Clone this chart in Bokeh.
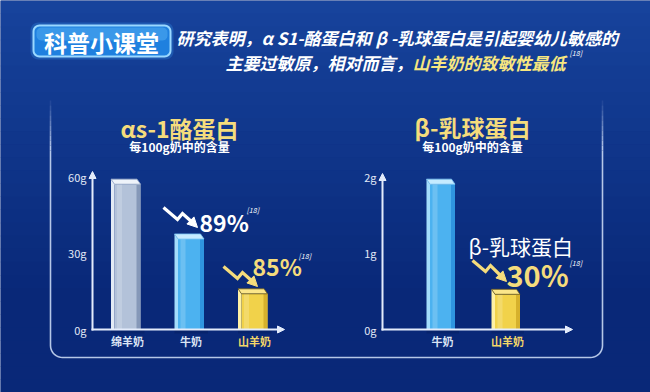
import numpy as np
from bokeh.plotting import figure
from bokeh.models import Range1d, Arrow, NormalHead, ColumnDataSource
from bokeh.core.properties import value
from bokeh.embed import file_html
from bokeh.resources import INLINE

FONT = "Noto Sans CJK SC"

# ---------------- data ----------------
badge_text = "科普小课堂"
header_line1 = "研究表明，α S1-酪蛋白和 β -乳球蛋白是引起婴幼儿敏感的"
header_line2a = "主要过敏原，相对而言，"
header_line2b = "山羊奶的致敏性最低"
ref_mark = "[18]"

left_title = "αs-1酪蛋白"
right_title = "β-乳球蛋白"
subtitle = "每100g奶中的含量"

left_categories = ["绵羊奶", "牛奶", "山羊奶"]
left_values = [57.0, 35.5, 14.0]
left_ticks = [0, 30, 60]
left_tick_labels = ["0g", "30g", "60g"]
left_drops = ["89%", "85%"]

right_categories = ["牛奶", "山羊奶"]
right_values = [1.9, 0.46]
right_ticks = [0, 1, 2]
right_tick_labels = ["0g", "1g", "2g"]
right_note = "β-乳球蛋白"
right_drop = "30%"

# ---------------- styles ----------------
BAR_STYLE = {
    "绵羊奶": dict(front="#b3c2d9", side="#e2eaf5", top="#eef3fa", shade="#8598b8", edge="#9fb0cc", label="#dbe4f4"),
    "牛奶": dict(front="#4cb2f0", side="#a4ddfb", top="#c6ebff", shade="#2f95e0", edge="#7cc8f5", label="#dbe4f4"),
    "山羊奶": dict(front="#f1d24a", side="#fff1a4", top="#fbe68a", shade="#d6b12c", edge="#6b5a1c", label="#f3d668"),
}
WHITE = "#ffffff"
GOLD = "#f5dc7c"
AXIS_C = "#e4ecfb"

W, H = 650, 392
X0, X1, Y0, Y1 = 0, 650, 0, 392

p = figure(width=W, height=H, x_range=Range1d(X0, X1), y_range=Range1d(Y1, Y0),
           output_backend="svg", toolbar_location=None, min_border=0,
           x_axis_location=None, y_axis_location=None, outline_line_color=None,
           background_fill_color="#0b2c80", border_fill_color="#0b2c80")
p.grid.visible = False

# background vertical gradient bands
top_c = np.array([0x17, 0x43, 0x9c]); bot_c = np.array([0x09, 0x28, 0x78])
nb = 30
edges = np.linspace(Y0, Y1, nb + 1)
cols = []
for k in range(nb):
    t = min(1.0, k / (nb - 1) * 1.3)
    c = (top_c * (1 - t) + bot_c * t).astype(int)
    cols.append("#%02x%02x%02x" % tuple(c))
p.quad(left=X0, right=X1, top=edges[:-1], bottom=edges[1:] + 0.5, fill_color=cols, line_color=None)

# ---------------- layout constants ----------------
BASE = 329
L_PX = 153 / 60; L_CX = 127; L_DX = 63.5; L_AXX = 92; L_AXEND = 284; L_AXTOP = 171; L_BW = 26
R_PX = 153 / 2;  R_CX = 442; R_DX = 65;  R_AXX = 382; R_AXEND = 572; R_AXTOP = 173; R_BW = 25


def vrange(px):
    return Range1d((BASE - Y1) / px, (BASE - Y0) / px)


def crange(cx, dx):
    return Range1d((X0 - cx) / dx, (X1 - cx) / dx)


p.extra_y_ranges = {"lv": vrange(L_PX), "rv": vrange(R_PX)}
p.extra_x_ranges = {"lc": crange(L_CX, L_DX), "rc": crange(R_CX, R_DX)}


def txt(x, y, s, size, color, align="left", style="bold", baseline="middle", **kw):
    p.text(x=[x], y=[y], text=[s], text_font=value(FONT), text_font_size=f"{size}px",
           text_color=color, text_align=align, text_baseline=baseline,
           text_font_style=style, **kw)


def rounded_rect(x0, y0, x1, y1, r, n=8):
    t = np.linspace(0, np.pi / 2, n)
    xs, ys = [], []
    xs += list(x0 + r - r * np.cos(t)); ys += list(y0 + r - r * np.sin(t))
    xs += list(x1 - r + r * np.sin(t)); ys += list(y0 + r - r * np.cos(t))
    xs += list(x1 - r + r * np.cos(t)); ys += list(y1 - r + r * np.sin(t))
    xs += list(x0 + r - r * np.sin(t)); ys += list(y1 - r + r * np.cos(t))
    return xs, ys


# ---------------- header ----------------
gx, gy = rounded_rect(30, 22, 173, 59, 8)
p.patch(gx, gy, fill_color="#3aa6ff", fill_alpha=0.25, line_color=None)
bx, by = rounded_rect(33, 25, 170, 56, 6)
p.patch(bx, by, fill_color="#1f80df", line_color="#9ad8ff", line_width=2)
hx, hy = rounded_rect(36, 27, 167, 40, 5)
p.patch(hx, hy, fill_color="#5cb6f7", fill_alpha=0.45, line_color=None)
txt(101, 41.5, badge_text, 23, WHITE, align="center")

txt(176, 37, header_line1, 17, WHITE, style="bold italic")
txt(412, 62, header_line2a, 17, WHITE, align="right", style="bold italic")
txt(412, 62, header_line2b, 17, "#f7e680", style="bold italic")
txt(569, 52, ref_mark, 7, WHITE, style="italic")

# ---------------- panel border ----------------
PL, PR, PB, PRAD = 50, 602, 357, 12
t = np.linspace(0, np.pi / 2, 10)
path_x = [PL] + list(PL + PRAD - PRAD * np.cos(t)) + list(PR - PRAD + PRAD * np.sin(t)) + [PR]
path_y = [150] + list(PB - PRAD + PRAD * np.sin(t)) + list(PB - PRAD + PRAD * np.cos(t)) + [150]
p.line(path_x, path_y, line_color="#c9d8f3", line_width=1.6, line_alpha=0.9)
fade = np.linspace(100, 150, 11)
for k in range(10):
    a = 0.9 * (k + 1) / 10
    p.line([PL, PL], [fade[k], fade[k + 1]], line_color="#c9d8f3", line_width=1.6, line_alpha=a)
    p.line([PR, PR], [fade[k], fade[k + 1]], line_color="#c9d8f3", line_width=1.6, line_alpha=a)

# ---------------- chart titles ----------------
txt(179, 127, left_title, 23, GOLD, align="center")
txt(179, 146, subtitle, 12, WHITE, align="center")
txt(472, 126, right_title, 23, GOLD, align="center")
txt(472, 146, subtitle, 12, WHITE, align="center")


# ---------------- bars ----------------
def draw_chart(cats, vals, ticks, tick_labels, xr, yr, dxpx, pxv, wpx, axx, axend, axtop):
    n = len(cats)
    idx = list(range(n))
    st = [BAR_STYLE[c] for c in cats]
    w = wpx / dxpx
    ox = 3.5 / dxpx
    oy = 5.0 / pxv
    xl = [i - w / 2 for i in idx]
    xrr = [i + w / 2 for i in idx]
    # shadow
    p.patches([[a - ox, b + 4 / dxpx, b + 4 / dxpx, a - ox] for a, b in zip(xl, xrr)],
              [[0, 0, -4 / pxv, -4 / pxv] for _ in idx],
              fill_color="#051a55", fill_alpha=0.35, line_color=None,
              x_range_name=xr, y_range_name=yr)
    # left side face
    p.patches([[a, a, a - ox, a - ox] for a in xl],
              [[0, v, v + oy, 0] for v in vals],
              fill_color=[s["side"] for s in st], line_color=None,
              x_range_name=xr, y_range_name=yr)
    # front face
    src = ColumnDataSource(dict(x=idx, top=vals, front=[s["front"] for s in st], cat=cats))
    p.vbar(x="x", top="top", bottom=0, width=w, source=src, fill_color="front",
           line_color=None, x_range_name=xr, y_range_name=yr)
    # gloss strip and right shading
    gw = 5 / dxpx
    p.vbar(x=[a + 2.5 / dxpx + gw / 2 for a in xl], top=vals, bottom=0, width=gw,
           fill_color=WHITE, fill_alpha=0.18, line_color=None, x_range_name=xr, y_range_name=yr)
    sw = 4 / dxpx
    p.vbar(x=[b - sw / 2 for b in xrr], top=vals, bottom=0, width=sw,
           fill_color=[s["shade"] for s in st], line_color=None, x_range_name=xr, y_range_name=yr)
    # top face
    p.patches([[a, b, b - ox, a - ox] for a, b in zip(xl, xrr)],
              [[v, v, v + oy, v + oy] for v in vals],
              fill_color=[s["top"] for s in st], line_color=[s["edge"] for s in st],
              line_width=0.8, x_range_name=xr, y_range_name=yr)
    # axes
    p.add_layout(Arrow(end=NormalHead(size=7, fill_color=AXIS_C, line_color=AXIS_C),
                       x_start=axx, y_start=BASE + 1, x_end=axx, y_end=axtop,
                       line_color=AXIS_C, line_width=2))
    p.add_layout(Arrow(end=NormalHead(size=7, fill_color=AXIS_C, line_color=AXIS_C),
                       x_start=axx - 1, y_start=BASE, x_end=axend, y_end=BASE,
                       line_color=AXIS_C, line_width=2))
    # tick labels through value scale
    p.text(x=[axx - 6] * len(ticks), y=ticks, text=tick_labels, y_range_name=yr,
           text_font=value(FONT), text_font_size="11px", text_color="#e2e9f6",
           text_align="right", text_baseline="middle")
    # category labels through category scale
    p.text(x=idx, y=[0] * n, text=cats, x_range_name=xr, y_range_name=yr, y_offset=11,
           text_font=value(FONT), text_font_size="11px", text_font_style="bold",
           text_color=[s["label"] for s in st], text_align="center", text_baseline="middle")


draw_chart(left_categories, left_values, left_ticks, left_tick_labels, "lc", "lv",
           L_DX, L_PX, L_BW, L_AXX, L_AXEND, L_AXTOP)
draw_chart(right_categories, right_values, right_ticks, right_tick_labels, "rc", "rv",
           R_DX, R_PX, R_BW, R_AXX, R_AXEND, R_AXTOP)


# ---------------- annotations ----------------
def zigzag(pts, color):
    xs = [q[0] for q in pts[:-1]]
    ys = [q[1] for q in pts[:-1]]
    p.line(xs, ys, line_color=color, line_width=3.2, line_join="miter")
    p.add_layout(Arrow(end=NormalHead(size=10, fill_color=color, line_color=color),
                       x_start=pts[-2][0], y_start=pts[-2][1], x_end=pts[-1][0], y_end=pts[-1][1],
                       line_color=color, line_width=3.2))


zigzag([(163, 207), (177, 219), (182, 213), (192, 222), (197, 227)], WHITE)
txt(199, 221, left_drops[0], 23, WHITE)
txt(246, 209, ref_mark, 7, WHITE, style="italic")

zigzag([(223, 266), (237, 278), (242, 272), (252, 281), (257, 286)], GOLD)
txt(252, 265, left_drops[1], 23, GOLD)
txt(298, 255, ref_mark, 7, WHITE, style="italic")

txt(468, 245, right_note, 21, WHITE, style="normal")
zigzag([(472, 260), (485, 271), (490, 265), (500, 275), (506, 281)], GOLD)
txt(506, 273, right_drop, 29, GOLD)
txt(569, 262, ref_mark, 7, WHITE, style="italic")

open("out.html", "w").write(file_html(p, INLINE))
